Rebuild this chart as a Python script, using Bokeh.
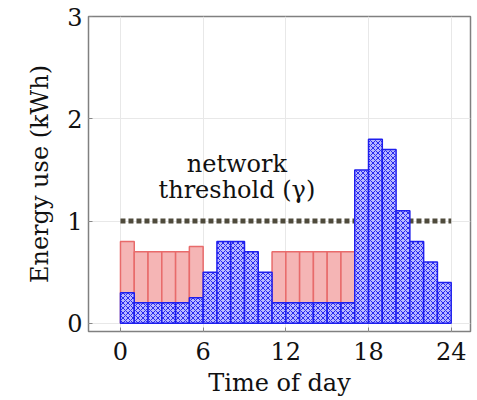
import numpy as np
from bokeh.plotting import figure
from bokeh.models import Range1d, Label, FixedTicker
from bokeh.embed import file_html
from bokeh.resources import INLINE

# --- data ---
hours = list(range(24))
base_load = [0.3, 0.2, 0.2, 0.2, 0.2, 0.25, 0.5, 0.8, 0.8, 0.7, 0.5, 0.2,
             0.2, 0.2, 0.2, 0.2, 0.2, 1.5, 1.8, 1.7, 1.1, 0.8, 0.6, 0.4]
shifted_total = [0.8, 0.7, 0.7, 0.7, 0.7, 0.75, 0, 0, 0, 0, 0, 0.7,
                 0.7, 0.7, 0.7, 0.7, 0.7, 0, 0, 0, 0, 0, 0, 0]
threshold = 1.0
threshold_span = [0, 24]
x_ticks = [0, 6, 12, 18, 24]
y_ticks = [0, 1, 2, 3]
annot_lines = ["network", "threshold (γ)"]

FONT = "DejaVu Serif"

p = figure(width=477, height=400, output_backend="svg", toolbar_location=None,
           x_range=Range1d(-2.32, 25.4), y_range=Range1d(-0.08, 3.0),
           min_border_left=88, min_border_right=7, min_border_top=16,
           min_border_bottom=69)

p.line(x=threshold_span, y=[threshold, threshold], line_color="#4f4b3c",
       line_width=5, line_dash="5 3")

centers = [h + 0.5 for h in hours]
pink_top = [t if t > 0 else np.nan for t in shifted_total]
p.vbar(x=centers, width=1, bottom=0, top=pink_top,
       fill_color="#f5b5b5", line_color="#e86b6b", line_width=1.5)
p.vbar(x=centers, width=1, bottom=0, top=base_load,
       fill_color="#b8b8ff", line_color="#1f1fee", line_width=1.5,
       hatch_pattern="diagonal_cross", hatch_color="#2a2af0",
       hatch_scale=5, hatch_weight=1)

p.add_layout(Label(x=8.45, y=1.56, text=annot_lines[0], text_align="center",
                   text_baseline="alphabetic", text_font=FONT,
                   text_font_size="24px", text_color="#111111"))
p.add_layout(Label(x=8.45, y=1.30, text=annot_lines[1], text_align="center",
                   text_baseline="alphabetic", text_font=FONT,
                   text_font_size="24px", text_color="#111111"))

p.xaxis.ticker = FixedTicker(ticks=x_ticks)
p.yaxis.ticker = FixedTicker(ticks=y_ticks)
p.xaxis.axis_label = "Time of day"
p.yaxis.axis_label = "Energy use (kWh)"
for ax in (p.xaxis, p.yaxis):
    ax.axis_label_text_font = FONT
    ax.axis_label_text_font_style = "normal"
    ax.axis_label_text_font_size = "24px"
    ax.axis_label_text_color = "#111111"
    ax.major_label_text_font = FONT
    ax.major_label_text_font_size = "24px"
    ax.major_label_text_color = "#111111"
    ax.axis_line_color = None
    ax.major_tick_in = 4
    ax.major_tick_out = 0
    ax.major_tick_line_color = "#888888"
    ax.minor_tick_line_color = None
p.xaxis.major_label_standoff = 10
p.yaxis.major_label_standoff = 6
p.xaxis.axis_label_standoff = 6
p.yaxis.axis_label_standoff = 10

p.xgrid.ticker = FixedTicker(ticks=x_ticks)
p.ygrid.ticker = FixedTicker(ticks=y_ticks)
p.grid.grid_line_color = "#e8e8e8"
p.grid.grid_line_width = 1
p.outline_line_color = "#808080"
p.outline_line_width = 1.5
p.background_fill_color = "white"
p.border_fill_color = "white"

open("out.html", "w").write(file_html(p, INLINE))
